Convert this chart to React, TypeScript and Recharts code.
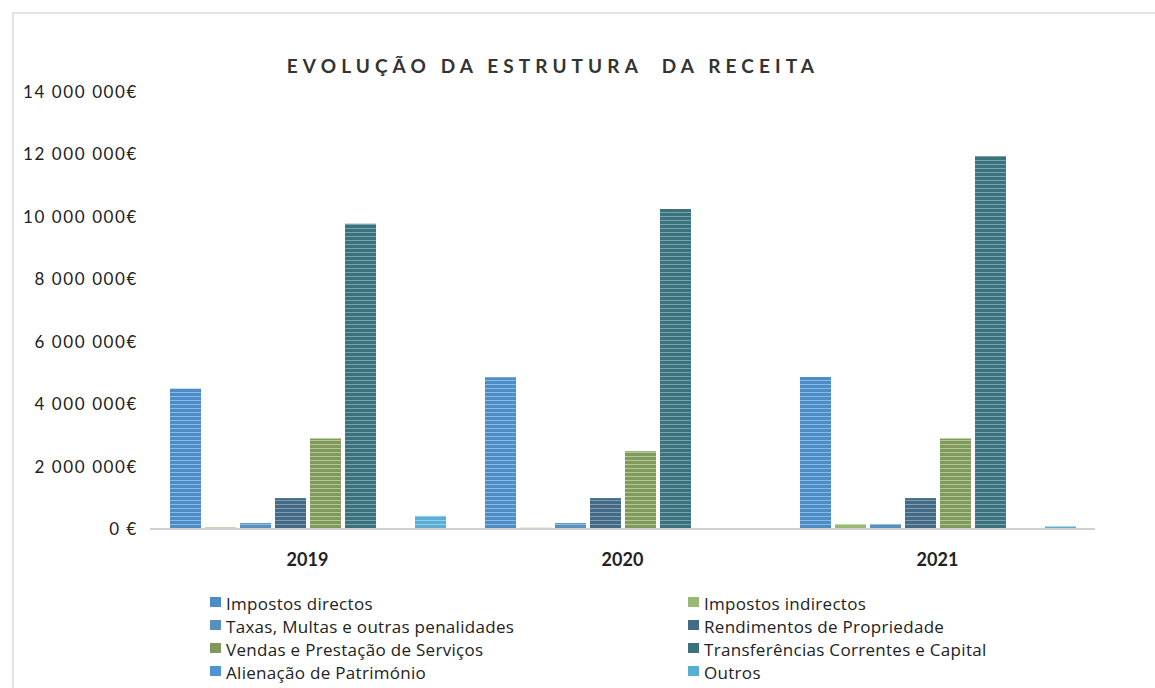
import React from 'react';
import { BarChart, Bar, XAxis, YAxis } from 'recharts';

const years = ['2019', '2020', '2021'];

const impostosDirectos = [4500000, 4860000, 4870000];
const impostosIndirectos = [50000, 40000, 160000];
const taxas = [190000, 190000, 160000];
const rendimentos = [990000, 990000, 990000];
const vendas = [2900000, 2490000, 2900000];
const transferencias = [9780000, 10250000, 11950000];
const alienacao = [0, 0, 30000];
const outros = [420000, 0, 80000];

const yTicks = [0, 2000000, 4000000, 6000000, 8000000, 10000000, 12000000, 14000000];

const series = [
  { key: 'directos', name: 'Impostos directos', values: impostosDirectos, color: '#4d8cc6', stripe: '#8dbbe3' },
  { key: 'indirectos', name: 'Impostos indirectos', values: impostosIndirectos, color: '#98b874', stripe: '#c4dba8' },
  { key: 'taxas', name: 'Taxas, Multas e outras penalidades', values: taxas, color: '#5890c0', stripe: '#94bde0' },
  { key: 'rendimentos', name: 'Rendimentos de Propriedade', values: rendimentos, color: '#446a86', stripe: '#7d9db5' },
  { key: 'vendas', name: 'Vendas e Prestação de Serviços', values: vendas, color: '#7f9a5c', stripe: '#b3c794' },
  { key: 'transferencias', name: 'Transferências Correntes e Capital', values: transferencias, color: '#3b727c', stripe: '#76a4ac' },
  { key: 'alienacao', name: 'Alienação de Património', values: alienacao, color: '#4f93cf', stripe: '#8fbee6' },
  { key: 'outros', name: 'Outros', values: outros, color: '#5aaed6', stripe: '#98d0ea' },
];

const data = years.map((year, i) => {
  const row: any = { year };
  series.forEach((s) => { row[s.key] = s.values[i]; });
  return row;
});

const formatEuro = (v: number) => {
  if (v === 0) return '0 €';
  return v.toString().replace(/\B(?=(\d{3})+(?!\d))/g, ' ') + '€';
};

const font = 'Lato, "Open Sans", sans-serif';

// legend sits outside the chart so it does not eat into the plot height
const ChartLegend = () => (
  <div
    style={{
      position: 'absolute',
      left: 210,
      top: 593,
      display: 'grid',
      gridTemplateColumns: '478px 420px',
      rowGap: 2,
      fontFamily: '"Open Sans", sans-serif',
      fontSize: 17,
      letterSpacing: 0.3,
      color: '#222',
      lineHeight: '21px',
    }}
  >
    {series.map((s) => (
      <div key={s.key} style={{ display: 'flex', alignItems: 'center', whiteSpace: 'nowrap' }}>
        <span style={{ display: 'inline-block', width: 11, height: 10, background: s.color, marginRight: 5, marginTop: -4 }} />
        <span>{s.name}</span>
      </div>
    ))}
  </div>
);

export default function App() {
  return (
    <div style={{ position: 'absolute', left: 0, top: 0, width: 1155, height: 688, background: '#fff', overflow: 'hidden' }}>
      <div style={{ position: 'absolute', left: 12, top: 12, width: 1150, height: 700, borderLeft: '2px solid #e4e4e4', borderTop: '2px solid #e4e4e4' }} />
      <div
        style={{
          position: 'absolute',
          left: 0,
          width: 1106,
          top: 54,
          textAlign: 'center',
          fontFamily: font,
          fontSize: 19,
          fontWeight: 700,
          letterSpacing: 5.1,
          color: '#333',
          whiteSpace: 'pre',
        }}
      >
        {'EVOLUÇÃO DA ESTRUTURA  DA RECEITA'}
      </div>
      <BarChart
        width={1155}
        height={688}
        data={data}
        margin={{ top: 92, right: 60, left: 0, bottom: 119 }}
        barCategoryGap={20}
        barGap={4}
        style={{ position: 'absolute', left: 0, top: 0 }}
      >
        <defs>
          {series.map((s) => (
            <pattern key={s.key} id={`stripe-${s.key}`} patternUnits="userSpaceOnUse" width={6} height={4}>
              <rect x={0} y={0} width={6} height={4} fill={s.color} />
              <rect x={0} y={0} width={6} height={1} fill={s.stripe} />
            </pattern>
          ))}
        </defs>
        <XAxis
          dataKey="year"
          axisLine={{ stroke: '#d0d0d0', strokeWidth: 2 }}
          tickLine={false}
          tickMargin={18}
          height={40}
          tick={{ fill: '#222', fontFamily: font, fontSize: 18, fontWeight: 700 }}
        />
        <YAxis
          width={150}
          domain={[0, 14000000]}
          ticks={yTicks}
          interval={0}
          axisLine={false}
          tickLine={false}
          tickMargin={6}
          tickFormatter={formatEuro}
          tick={{ fill: '#222', fontFamily: font, fontSize: 17, letterSpacing: 1.6 }}
        />
        {series.map((s) => (
          <Bar key={s.key} dataKey={s.key} name={s.name} fill={`url(#stripe-${s.key})`} isAnimationActive={false} />
        ))}
      </BarChart>
      <ChartLegend />
    </div>
  );
}
